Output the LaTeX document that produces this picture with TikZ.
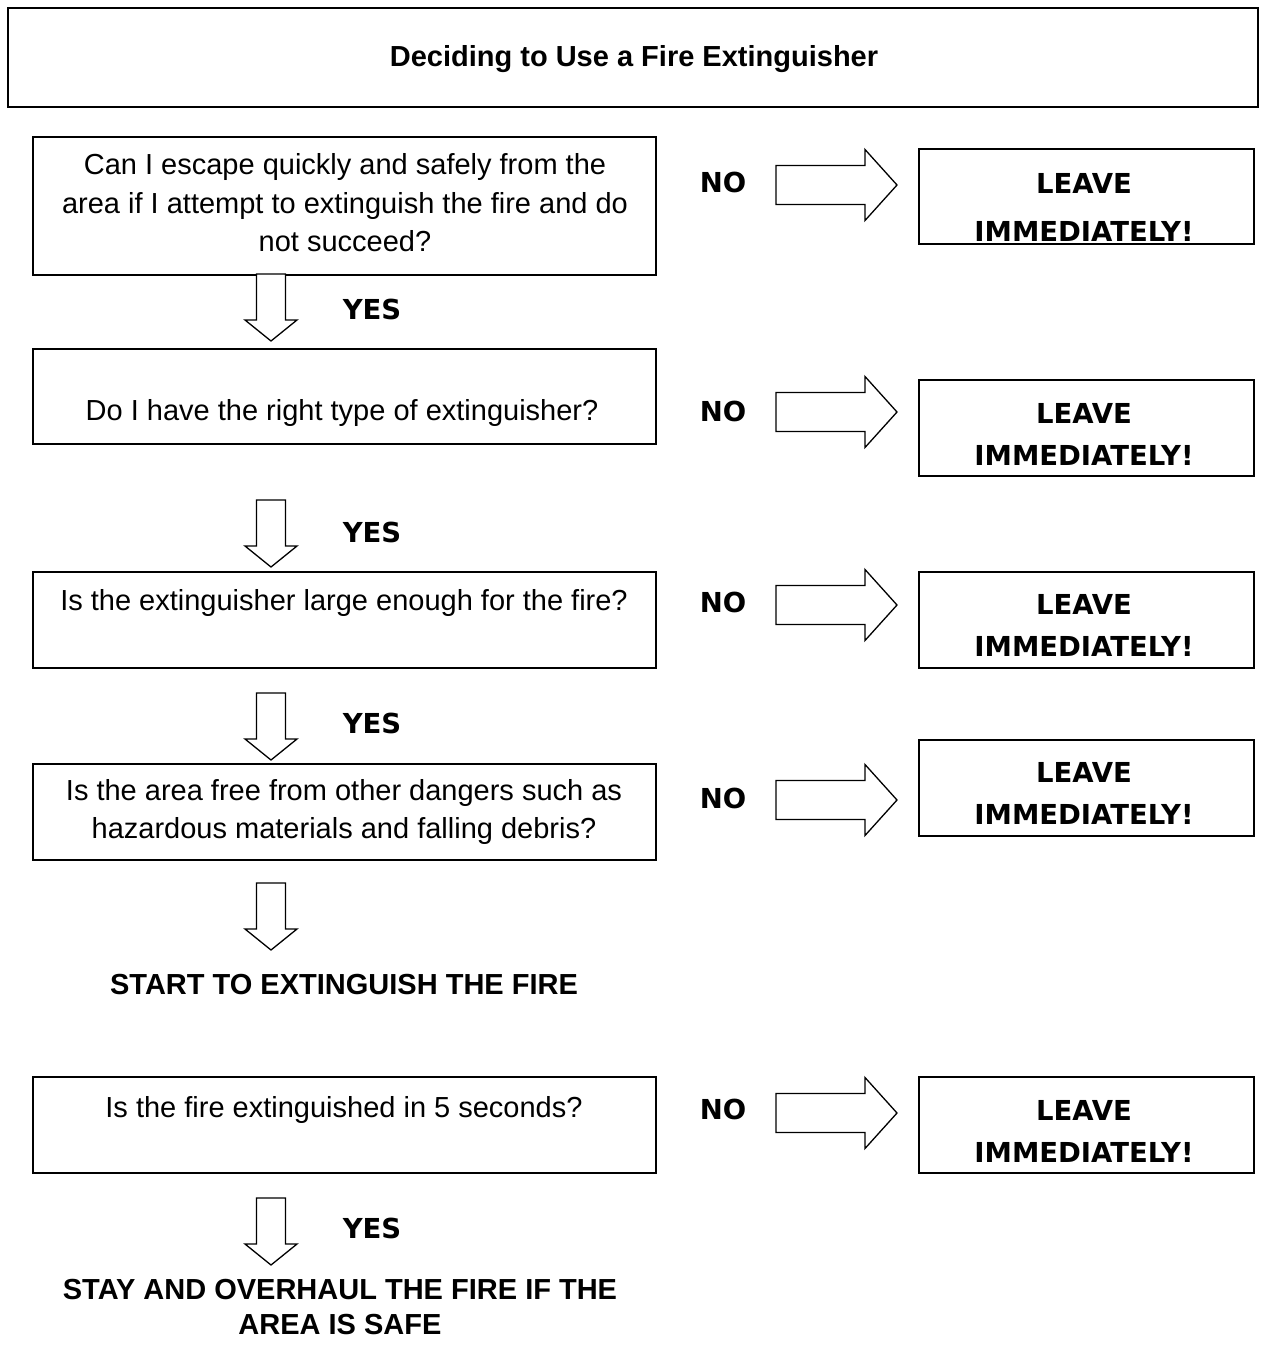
\documentclass[tikz,border=0pt]{standalone}
\usepackage{fontspec}
\setmainfont{Liberation Sans}
\newfontfamily\blackfont{DejaVu Sans}
\begin{document}
\begin{tikzpicture}[x=1pt,y=-1pt,
  box/.style={draw, line width=1.5pt, inner sep=0pt},
  qbox/.style={box, minimum width=623pt},
  lbox/.style={box, minimum width=335pt, minimum height=96pt},
  body/.style={font=\fontsize{29}{38.5}\selectfont, align=center, inner sep=0pt},
  bodyb/.style={body, font=\fontsize{29}{35}\selectfont\bfseries},
  heavy/.style={font=\fontsize{27.5}{42}\blackfont\bfseries, align=center, inner sep=0pt},
  blk/.style={draw, line width=1.3pt, line join=miter, fill=white},
  rarrow/.pic={\path[blk] (-121,-19.5) -- (-32,-19.5) -- (-32,-35.5) -- (0,0) -- (-32,35.5) -- (-32,19.5) -- (-121,19.5) -- cycle;},
  darrow/.pic={\path[blk] (-14.5,-67) -- (14.5,-67) -- (14.5,-21) -- (26,-21) -- (0,0) -- (-26,-21) -- (-14.5,-21) -- cycle;}
]
\useasboundingbox (0,0) rectangle (1266,1345);

% title
\node[box, minimum width=1250pt, minimum height=99pt] (title) at (633,57.5) {};
\node[bodyb] (titletext) at (634,59) {Deciding to Use a Fire Extinguisher};

% question boxes
\node[qbox, minimum height=138pt] (q1) at (344.5,206) {};
\node[body] (q1t) at (345,203) {Can I escape quickly and safely from the\\area if I attempt to extinguish the fire and do\\not succeed?};
\node[qbox, minimum height=95pt] (q2) at (344.5,396.5) {};
\node[body] (q2t) at (342,413) {Do I have the right type of extinguisher?};
\node[qbox, minimum height=96pt] (q3) at (344.5,620) {};
\node[body] (q3t) at (344,603) {Is the extinguisher large enough for the fire?};
\node[qbox, minimum height=96pt] (q4) at (344.5,812) {};
\node[body] (q4t) at (344,812) {Is the area free from other dangers such as\\hazardous materials and falling debris?};
\node[bodyb] (start) at (344,985) {START TO EXTINGUISH THE FIRE};
\node[qbox, minimum height=96pt] (q5) at (344.5,1125) {};
\node[body] (q5t) at (344,1110) {Is the fire extinguished in 5 seconds?};
\node[bodyb] (stay) at (340,1307) {STAY AND OVERHAUL THE FIRE IF THE\\AREA IS SAFE};

% leave boxes
\node[lbox, minimum height=95pt] (l1) at (1086.5,196.5) {};
\node[heavy, font=\fontsize{27.5}{48}\blackfont\bfseries] (l1t) at (1084,207) {LEAVE\\IMMEDIATELY!};
\node[lbox] (l2) at (1086.5,428) {};
\node[heavy] (l2t) at (1084,434.5) {LEAVE\\IMMEDIATELY!};
\node[lbox] (l3) at (1086.5,620) {};
\node[heavy] (l3t) at (1084,625) {LEAVE\\IMMEDIATELY!};
\node[lbox] (l4) at (1086.5,788) {};
\node[heavy] (l4t) at (1084,793) {LEAVE\\IMMEDIATELY!};
\node[lbox] (l5) at (1086.5,1125) {};
\node[heavy] (l5t) at (1084,1131) {LEAVE\\IMMEDIATELY!};

% NO labels
\node[heavy] (n1) at (723,182) {NO};
\node[heavy] (n2) at (723,411) {NO};
\node[heavy] (n3) at (723,602) {NO};
\node[heavy] (n4) at (723,798) {NO};
\node[heavy] (n5) at (723,1109) {NO};

% YES labels
\node[heavy] (y1) at (372,309) {YES};
\node[heavy] (y2) at (372,532) {YES};
\node[heavy] (y3) at (372,723) {YES};
\node[heavy] (y5) at (372,1228) {YES};

% right block arrows (tips)
\coordinate (r1) at (897,185);
\coordinate (r2) at (897,412);
\coordinate (r3) at (897,605);
\coordinate (r4) at (897,800);
\coordinate (r5) at (897,1113);
\foreach \c in {r1,r2,r3,r4,r5} \pic at (\c) {rarrow};

% down block arrows (tips)
\coordinate (d1) at (271,341);
\coordinate (d2) at (271,567);
\coordinate (d3) at (271,760);
\coordinate (d4) at (271,950);
\coordinate (d5) at (271,1265);
\foreach \c in {d1,d2,d3,d4,d5} \pic at (\c) {darrow};
\end{tikzpicture}
\end{document}
